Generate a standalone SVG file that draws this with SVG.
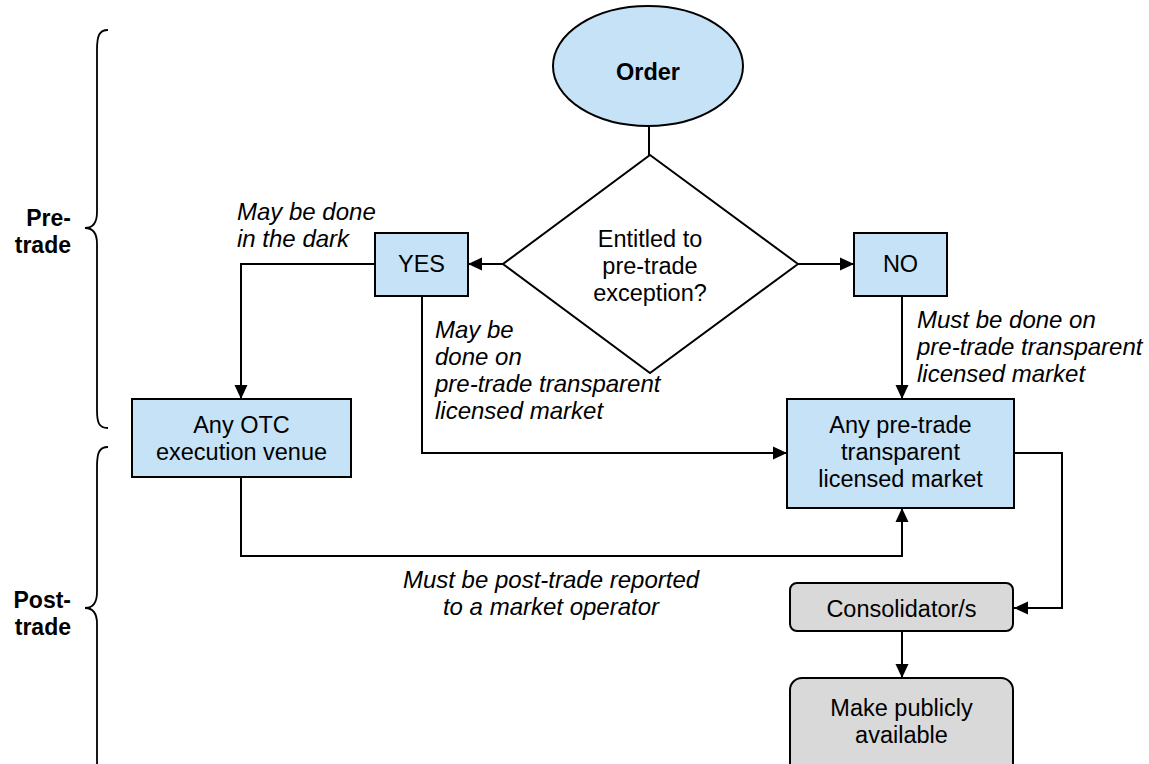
<svg xmlns="http://www.w3.org/2000/svg" width="1149" height="764" viewBox="0 0 1149 764">
<defs>
<marker id="arr" markerUnits="userSpaceOnUse" markerWidth="14" markerHeight="14" refX="14" refY="7" orient="auto">
<path d="M0,0.5 L14,7 L0,13.5 z" fill="#000"/>
</marker>
<style>
.blue{fill:#C5E2F7;stroke:#000;stroke-width:2}
.grey{fill:#D9D9D9;stroke:#000;stroke-width:2}
.t{font-family:"Liberation Sans",Arial,sans-serif;font-size:23.5px;fill:#000;text-anchor:middle}
.b{font-weight:bold}
.i{font-family:"Liberation Sans",Arial,sans-serif;font-size:24px;font-style:italic;fill:#000}
.lab{font-family:"Liberation Sans",Arial,sans-serif;font-size:23px;font-weight:bold;fill:#000;text-anchor:end}
.c{fill:none;stroke:#000;stroke-width:2}
.br{fill:none;stroke:#000;stroke-width:1.8}
</style>
</defs>
<rect width="1149" height="764" fill="#fff"/>

<g id="braces">
<path class="br" d="M108,30 C99,30 97,36 97,50 L97,212 C97,223 93,228 85,228 C93,228 97,233 97,244 L97,410 C97,423 99,428 108,428"/>
<path class="br" d="M108,447 C99,447 97,453 97,467 L97,592 C97,603 93,608 85,608 C93,608 97,613 97,624 L97,760 C97,773 99,778 108,778"/>
<text class="lab" x="71" y="226">Pre-</text>
<text class="lab" x="71" y="253">trade</text>
<text class="lab" x="71" y="608">Post-</text>
<text class="lab" x="71" y="635">trade</text>
</g>

<g id="connectors">
<line class="c" x1="649" y1="126" x2="649" y2="155"/>
<line class="c" x1="503" y1="264" x2="468" y2="264" marker-end="url(#arr)"/>
<line class="c" x1="798" y1="264" x2="854" y2="264" marker-end="url(#arr)"/>
<polyline class="c" points="375,264 241,264 241,399" marker-end="url(#arr)"/>
<polyline class="c" points="422,296 422,453 787,453" marker-end="url(#arr)"/>
<line class="c" x1="902" y1="296" x2="902" y2="399" marker-end="url(#arr)"/>
<polyline class="c" points="241,477 241,556 902,556 902,508" marker-end="url(#arr)"/>
<polyline class="c" points="1014,453 1062,453 1062,608 1014,608" marker-end="url(#arr)"/>
<line class="c" x1="902" y1="631" x2="902" y2="678" marker-end="url(#arr)"/>
</g>

<g id="labels">
<text class="i" x="237" y="220">May be done</text>
<text class="i" x="237" y="247">in the dark</text>
<text class="i" x="435" y="338">May be</text>
<text class="i" x="435" y="365">done on</text>
<text class="i" x="435" y="392">pre-trade transparent</text>
<text class="i" x="435" y="419">licensed market</text>
<text class="i" x="917" y="328">Must be done on</text>
<text class="i" x="917" y="355">pre-trade transparent</text>
<text class="i" x="917" y="382">licensed market</text>
<text class="i" x="551" y="588" text-anchor="middle">Must be post-trade reported</text>
<text class="i" x="551" y="615" text-anchor="middle">to a market operator</text>
</g>

<g id="order">
<ellipse class="blue" cx="648" cy="66" rx="95" ry="60"/>
<text class="t b" x="648" y="80">Order</text>
</g>

<g id="decision">
<polygon points="650,155 798,264 650,373 503,264" fill="#fff" stroke="#000" stroke-width="2"/>
<text class="t" x="650" y="247">Entitled to</text>
<text class="t" x="650" y="274">pre-trade</text>
<text class="t" x="650" y="301">exception?</text>
</g>

<g id="yes">
<rect class="blue" x="375" y="233" width="93" height="63"/>
<text class="t" x="421.5" y="272">YES</text>
</g>

<g id="no">
<rect class="blue" x="854" y="233" width="93" height="63"/>
<text class="t" x="900.5" y="272">NO</text>
</g>

<g id="otc">
<rect class="blue" x="132" y="399" width="219" height="78"/>
<text class="t" x="241.5" y="433">Any OTC</text>
<text class="t" x="241.5" y="460">execution venue</text>
</g>

<g id="licensed">
<rect class="blue" x="787" y="399" width="227" height="109"/>
<text class="t" x="900.5" y="433">Any pre-trade</text>
<text class="t" x="900.5" y="460">transparent</text>
<text class="t" x="900.5" y="487">licensed market</text>
</g>

<g id="consolidator">
<rect class="grey" x="790" y="583" width="223" height="48" rx="7"/>
<text class="t" x="901.5" y="617">Consolidator/s</text>
</g>

<g id="public">
<rect class="grey" x="790" y="678" width="223" height="100" rx="12"/>
<text class="t" x="901.5" y="716">Make publicly</text>
<text class="t" x="901.5" y="743">available</text>
</g>
</svg>
